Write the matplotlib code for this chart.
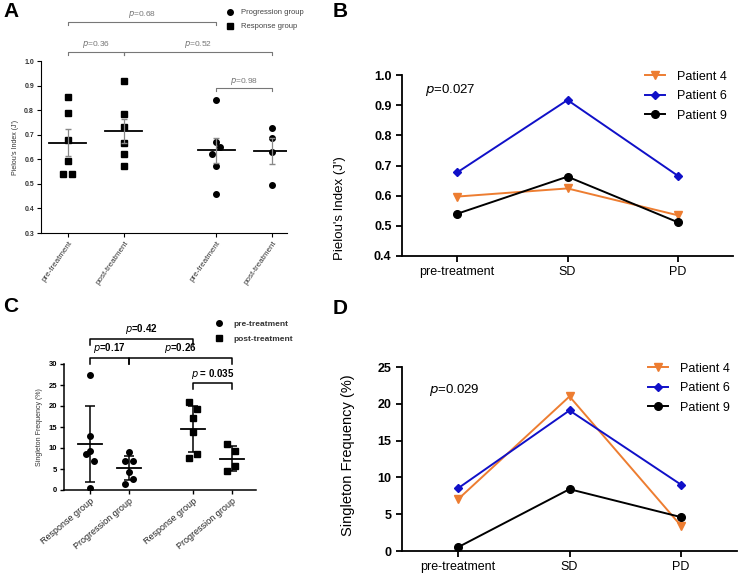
import numpy as np
import matplotlib
matplotlib.use("Agg")
import matplotlib.pyplot as plt
from matplotlib.lines import Line2D

plt.rcParams["font.family"] = ["Liberation Sans", "DejaVu Sans"]

# ---------------- data ----------------
# panel A: Pielou's index per group (response = squares, progression = circles)
a_labels = ["pre-treatment", "post-treatment", "pre-treatment", "post-treatment"]
a_resp_pre = [0.855, 0.79, 0.68, 0.595, 0.54, 0.54]
a_resp_post = [0.918, 0.783, 0.73, 0.665, 0.622, 0.572]
a_prog_pre = [0.84, 0.67, 0.65, 0.622, 0.572, 0.458]
a_prog_post = [0.726, 0.685, 0.628, 0.494]
a_means = [0.667, 0.715, 0.636, 0.633]
a_sem = [0.055, 0.05, 0.052, 0.052]

# panel C: singleton frequency (pre = circles, post = squares)
c_labels = ["Response group", "Progression group", "Response group", "Progression group"]
c_resp_pre = [27.4, 12.9, 9.3, 8.6, 7.0, 0.5]
c_prog_pre = [9.0, 7.0, 7.0, 4.3, 2.7, 1.4]
c_resp_post = [21.0, 19.3, 17.1, 13.9, 8.5, 7.7]
c_prog_post = [11.0, 9.2, 5.6, 4.5]
c_means = [10.9, 5.2, 14.5, 7.5]
c_sd = [9.0, 2.85, 5.4, 3.0]

# panels B and D: patients over time
stages = ["pre-treatment", "SD", "PD"]
patients = ["Patient 4", "Patient 6", "Patient 9"]
b_p4 = [0.597, 0.624, 0.535]
b_p6 = [0.677, 0.917, 0.666]
b_p9 = [0.540, 0.663, 0.512]
d_p4 = [7.0, 21.0, 3.4]
d_p6 = [8.5, 19.1, 9.0]
d_p9 = [0.5, 8.4, 4.6]

# ---------------- layout helpers ----------------
W, H = 743, 576
fig = plt.figure(figsize=(W / 100, H / 100), dpi=100)


def rect(l, t, r, b):
    return [l / W, 1 - b / H, (r - l) / W, (b - t) / H]


pos = [1, 2, 3.65, 4.65]
orange = "#ED7D31"
blue = "#1010C8"

# jitter of overlapping points (horizontal spread only)
a_jit = [[0, 0, 0, 0, -0.08, 0.08], [0] * 6, [0, -0.01, 0.07, -0.08, 0, 0], [0] * 4]
c_jit = [[0, 0, 0, -0.1, 0.11, 0], [0, -0.11, 0.11, 0, 0.1, -0.1],
         [-0.1, 0.1, 0, 0, 0.1, -0.1], [-0.13, 0.06, 0.06, -0.13]]


def bracket(ax, x1, x2, y, tick, txt, color, fs, weight="normal", lw=0.8):
    ax.plot([x1, x1, x2, x2], [y - tick, y, y, y - tick], color=color, lw=lw, clip_on=False)
    ax.text((x1 + x2) / 2, y + tick * 0.5, txt, ha="center", va="bottom", fontsize=fs,
            color=color, fontweight=weight)


def ptxt(s):
    return r"$\it{p}$" + s


# ---------------- panel A ----------------
axA = fig.add_axes(rect(41, 61, 287, 233))
groupsA = [a_resp_pre, a_resp_post, a_prog_pre, a_prog_post]
mk = ["s", "s", "o", "o"]
for i, g in enumerate(groupsA):
    xs = np.array(a_jit[i]) + pos[i]
    axA.plot(xs, g, mk[i], color="black", ms=4, ls="none")
    axA.plot([pos[i] - 0.33, pos[i] + 0.33], [a_means[i]] * 2, color="black", lw=1.3)
    axA.errorbar(pos[i], a_means[i], yerr=a_sem[i], color="#888888", capsize=2.5, lw=0.9)
axA.set_ylim(0.3, 1.0)
axA.set_xlim(0.52, 4.91)
axA.set_yticks(np.arange(0.3, 1.01, 0.1))
axA.set_yticklabels(["%.1f" % v for v in np.arange(0.3, 1.01, 0.1)], fontsize=5, fontweight="bold",
                    color="#333333")
axA.set_xticks(pos)
axA.set_xticklabels(a_labels, rotation=55, ha="right", rotation_mode="anchor", fontsize=5.8,
                    color="#333333")
axA.tick_params(length=3, width=0.8, pad=2)
axA.set_ylabel("Pielou's Index (J')", fontsize=5, color="#333333", labelpad=4)
for s in ["top", "right"]:
    axA.spines[s].set_visible(False)
gA = "#777777"
bracket(axA, pos[0], pos[2], 1.159, 0.012, ptxt("=0.68"), gA, 6)
bracket(axA, pos[0], pos[1], 1.037, 0.012, ptxt("=0.36"), gA, 6)
bracket(axA, pos[1], pos[3], 1.037, 0.012, ptxt("=0.52"), gA, 6)
bracket(axA, pos[2], pos[3], 0.89, 0.012, ptxt("=0.98"), gA, 6)
hA = [Line2D([], [], marker="o", color="black", ls="none", ms=4),
      Line2D([], [], marker="s", color="black", ls="none", ms=4)]
axA.legend(hA, ["Progression group", "Response group"], loc="upper left",
           bbox_to_anchor=(215 / W, 1 - 2 / H), bbox_transform=fig.transFigure, frameon=False,
           fontsize=5.5, labelcolor="#444444", handletextpad=0.5, labelspacing=0.9)

# ---------------- panel C ----------------
axC = fig.add_axes(rect(64, 364, 256, 490))
groupsC = [c_resp_pre, c_prog_pre, c_resp_post, c_prog_post]
mkC = ["o", "o", "s", "s"]
for i, g in enumerate(groupsC):
    xs = np.array(c_jit[i]) + pos[i]
    axC.plot(xs, g, mkC[i], color="black", ms=4, ls="none")
    axC.plot([pos[i] - 0.31, pos[i] + 0.31], [c_means[i]] * 2, color="black", lw=1.3)
    axC.errorbar(pos[i], c_means[i], yerr=c_sd[i], color="black", capsize=3.5, lw=1.1, capthick=1.1)
axC.set_ylim(0, 30)
axC.set_xlim(0.33, 5.26)
axC.set_yticks([0, 5, 10, 15, 20, 25, 30])
axC.set_yticklabels(["0", "5", "10", "15", "20", "25", "30"], fontsize=5.5, fontweight="bold")
axC.set_xticks(pos)
axC.set_xticklabels(c_labels, rotation=40, ha="right", rotation_mode="anchor", fontsize=6.5,
                    color="#222222")
axC.tick_params(length=3, width=1.0, pad=2)
axC.set_ylabel("Singleton Frequency (%)", fontsize=5, color="#333333", labelpad=4)
for s in ["top", "right"]:
    axC.spines[s].set_visible(False)
for s in ["left", "bottom"]:
    axC.spines[s].set_linewidth(1.1)
bracket(axC, pos[0], pos[2], 35.9, 1.3, ptxt("=0.42"), "black", 7, "bold", 1.1)
bracket(axC, pos[0], pos[1], 31.4, 1.3, ptxt("=0.17"), "black", 7, "bold", 1.1)
bracket(axC, pos[1], pos[3], 31.4, 1.3, ptxt("=0.26"), "black", 7, "bold", 1.1)
bracket(axC, pos[2], pos[3], 25.4, 1.3, ptxt(" = 0.035"), "black", 7, "bold", 1.1)
hC = [Line2D([], [], marker="o", color="black", ls="none", ms=4),
      Line2D([], [], marker="s", color="black", ls="none", ms=4)]
axC.legend(hC, ["pre-treatment", "post-treatment"], loc="upper left",
           bbox_to_anchor=(203 / W, 1 - 313 / H), bbox_transform=fig.transFigure, frameon=False,
           labelcolor="#333333", handletextpad=0.8, labelspacing=0.8,
           prop={"weight": "bold", "size": 6})


# ---------------- panels B and D ----------------
def line_panel(ax, p4, p6, p9):
    x = np.arange(len(stages))
    ax.plot(x, p4, color=orange, marker="v", ms=6, lw=1.4, label=patients[0])
    ax.plot(x, p6, color=blue, marker="D", ms=4, lw=1.4, label=patients[1])
    ax.plot(x, p9, color="black", marker="o", ms=5.5, lw=1.4, label=patients[2])
    ax.set_xlim(-0.5, 2.5)
    ax.set_xticks(x)
    ax.set_xticklabels(stages, fontsize=9)
    for s in ["top", "right"]:
        ax.spines[s].set_visible(False)
    for s in ["left", "bottom"]:
        ax.spines[s].set_linewidth(1.3)
    ax.tick_params(length=4, width=1.3, labelsize=9)
    ax.legend(loc="upper left", bbox_to_anchor=(0.70, 1.085), frameon=False, fontsize=9,
              handlelength=1.6, handletextpad=1.0, labelspacing=0.6)


axB = fig.add_axes(rect(402, 75, 733, 256))
line_panel(axB, b_p4, b_p6, b_p9)
axB.set_ylim(0.4, 1.0)
axB.set_yticks(np.arange(0.4, 1.01, 0.1))
axB.set_yticklabels(["%.1f" % v for v in np.arange(0.4, 1.01, 0.1)], fontweight="bold", fontsize=9)
axB.set_ylabel("Pielou's Index (J')", fontsize=9.5)
axB.yaxis.set_label_coords(-0.17, 0.265)
axB.text(0.07, 0.9, ptxt("=0.027"), transform=axB.transAxes, fontsize=9.5)

axD = fig.add_axes(rect(402, 367, 737, 551))
line_panel(axD, d_p4, d_p6, d_p9)
axD.set_ylim(0, 25)
axD.set_yticks([0, 5, 10, 15, 20, 25])
axD.set_yticklabels(["0", "5", "10", "15", "20", "25"], fontweight="bold", fontsize=9)
axD.set_ylabel("Singleton Frequency (%)", fontsize=10.5)
axD.yaxis.set_label_coords(-0.14, 0.52)
axD.text(0.08, 0.86, ptxt("=0.029"), transform=axD.transAxes, fontsize=9.5)

# panel letters
for lab, (px, py) in {"A": (3, 2), "B": (333, 2), "C": (3, 297), "D": (333, 299)}.items():
    fig.text(px / W, 1 - py / H, lab, fontsize=15, fontweight="bold", va="top")

fig.savefig("out.png", dpi=100)
